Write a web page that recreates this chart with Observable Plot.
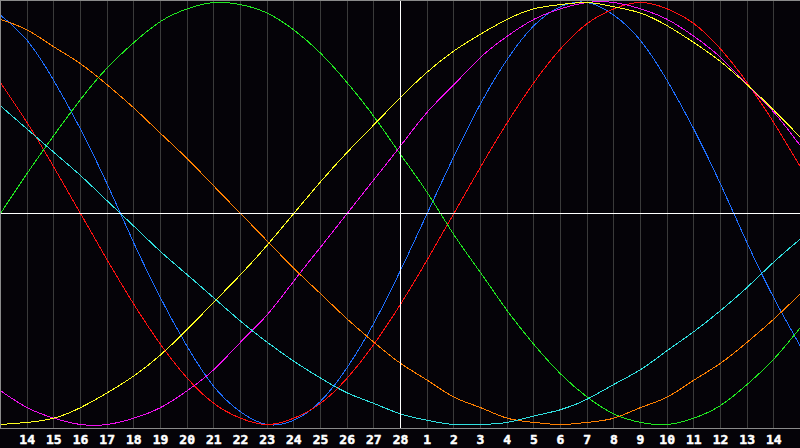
<!DOCTYPE html>
<html>
<head>
<meta charset="utf-8">
<script src="https://cdn.jsdelivr.net/npm/d3@7"></script>
<script src="https://cdn.jsdelivr.net/npm/@observablehq/plot@0.6"></script>
<style>
  html, body { margin: 0; padding: 0; background: #050308; }
  #chart svg { display: block; }
</style>
</head>
<body>
<div id="chart"></div>
<script>
// day positions (0 = left edge, 30 = right edge)
const dayIndex = [0,1,2,3,4,5,6,7,8,9,10,11,12,13,14,15,16,17,18,19,20,21,22,23,24,25,26,27,28,29,30];
// tick labels at positions 1..29
const tickPositions = [1,2,3,4,5,6,7,8,9,10,11,12,13,14,15,16,17,18,19,20,21,22,23,24,25,26,27,28,29];
const tickLabels = ["14","15","16","17","18","19","20","21","22","23","24","25","26","27","28","1","2","3","4","5","6","7","8","9","10","11","12","13","14"];

// series values (-1 .. 1), one per day position
const physical23 = [0.94,0.82,0.63,0.40,0.14,-0.14,-0.40,-0.63,-0.82,-0.94,-1.00,-0.98,-0.89,-0.73,-0.52,-0.27,0.00,0.27,0.52,0.73,0.89,0.98,1.00,0.94,0.82,0.63,0.40,0.14,-0.14,-0.40,-0.63];
const emotional28 = [0.62,0.43,0.22,0.00,-0.22,-0.43,-0.62,-0.78,-0.90,-0.97,-1.00,-0.97,-0.90,-0.78,-0.62,-0.43,-0.22,0.00,0.22,0.43,0.62,0.78,0.90,0.97,1.00,0.97,0.90,0.78,0.62,0.43,0.22];
const intellectual33 = [0.00,0.19,0.37,0.54,0.69,0.81,0.91,0.97,1.00,0.99,0.95,0.87,0.76,0.62,0.46,0.28,0.10,-0.10,-0.28,-0.46,-0.62,-0.76,-0.87,-0.95,-0.99,-1.00,-0.97,-0.91,-0.81,-0.69,-0.54];
const intuitive38 = [-0.84,-0.92,-0.97,-1.00,-1.00,-0.97,-0.92,-0.84,-0.74,-0.61,-0.48,-0.32,-0.16,0.00,0.16,0.32,0.48,0.61,0.74,0.84,0.92,0.97,1.00,1.00,0.97,0.92,0.84,0.74,0.61,0.48,0.32];
const aesthetic43 = [-1.00,-0.99,-0.97,-0.92,-0.85,-0.77,-0.67,-0.55,-0.42,-0.29,-0.15,0.00,0.15,0.29,0.42,0.55,0.67,0.77,0.85,0.92,0.97,0.99,1.00,0.98,0.95,0.89,0.81,0.72,0.61,0.49,0.36];
const awareness48 = [0.92,0.87,0.79,0.71,0.61,0.50,0.38,0.26,0.13,0.00,-0.13,-0.26,-0.38,-0.50,-0.61,-0.71,-0.79,-0.87,-0.92,-0.97,-0.99,-1.00,-0.99,-0.97,-0.92,-0.87,-0.79,-0.71,-0.61,-0.50,-0.38];
const spiritual53 = [0.51,0.40,0.29,0.18,0.06,-0.06,-0.18,-0.29,-0.40,-0.51,-0.61,-0.70,-0.78,-0.85,-0.90,-0.95,-0.98,-1.00,-1.00,-0.99,-0.96,-0.93,-0.88,-0.81,-0.74,-0.65,-0.56,-0.46,-0.35,-0.23,-0.12];

const seriesNames = ["physical","emotional","intellectual","intuitive","aesthetic","awareness","spiritual"];
const seriesValues = [physical23, emotional28, intellectual33, intuitive38, aesthetic43, awareness48, spiritual53];
const seriesColors = ["#1e6eff","#ff1010","#20e820","#f010f0","#ffff20","#ff8000","#30e0e0"];

const rows = [];
seriesNames.forEach((name, s) => {
  dayIndex.forEach((d, i) => rows.push({series: name, x: d, v: seriesValues[s][i]}));
});

const gridPositions = tickPositions.filter(p => p !== 15);

const chart = Plot.plot({
  width: 800,
  height: 448,
  marginTop: 0,
  marginBottom: 20,
  marginLeft: 0,
  marginRight: 0,
  style: {background: "#050308", fontFamily: "'DejaVu Sans Mono', monospace", fontSize: "13px", fontWeight: "bold", shapeRendering: "crispEdges"},
  x: {domain: [0, 30], range: [0, 800], axis: null},
  y: {domain: [-1, 1], range: [424, 2], axis: null},
  marks: [
    Plot.ruleX(gridPositions, {stroke: "#3a3a3a", strokeWidth: 1}),
    ...seriesNames.map((name, s) =>
      Plot.line(rows.filter(r => r.series === name), {x: "x", y: "v", stroke: seriesColors[s], strokeWidth: 1, curve: "natural"})
    ),
    Plot.ruleY([0], {stroke: "#ffffff", strokeWidth: 1.2}),
    Plot.ruleX([15], {stroke: "#ffffff", strokeWidth: 1.2}),
    Plot.frame({stroke: "#8a8a8a", strokeWidth: 1.5}),
    Plot.text(tickPositions, {
      x: (d) => d,
      frameAnchor: "bottom",
      dy: 15,
      text: (d) => tickLabels[tickPositions.indexOf(d)],
      fill: "#ffffff",
      stroke: "#ffffff",
      strokeWidth: 0.5,
      fontSize: 13,
      fontWeight: "bold",
      fontFamily: "'DejaVu Sans Mono', monospace",
      textAnchor: "middle"
    })
  ]
});
document.getElementById("chart").appendChild(chart);
</script>
</body>
</html>
